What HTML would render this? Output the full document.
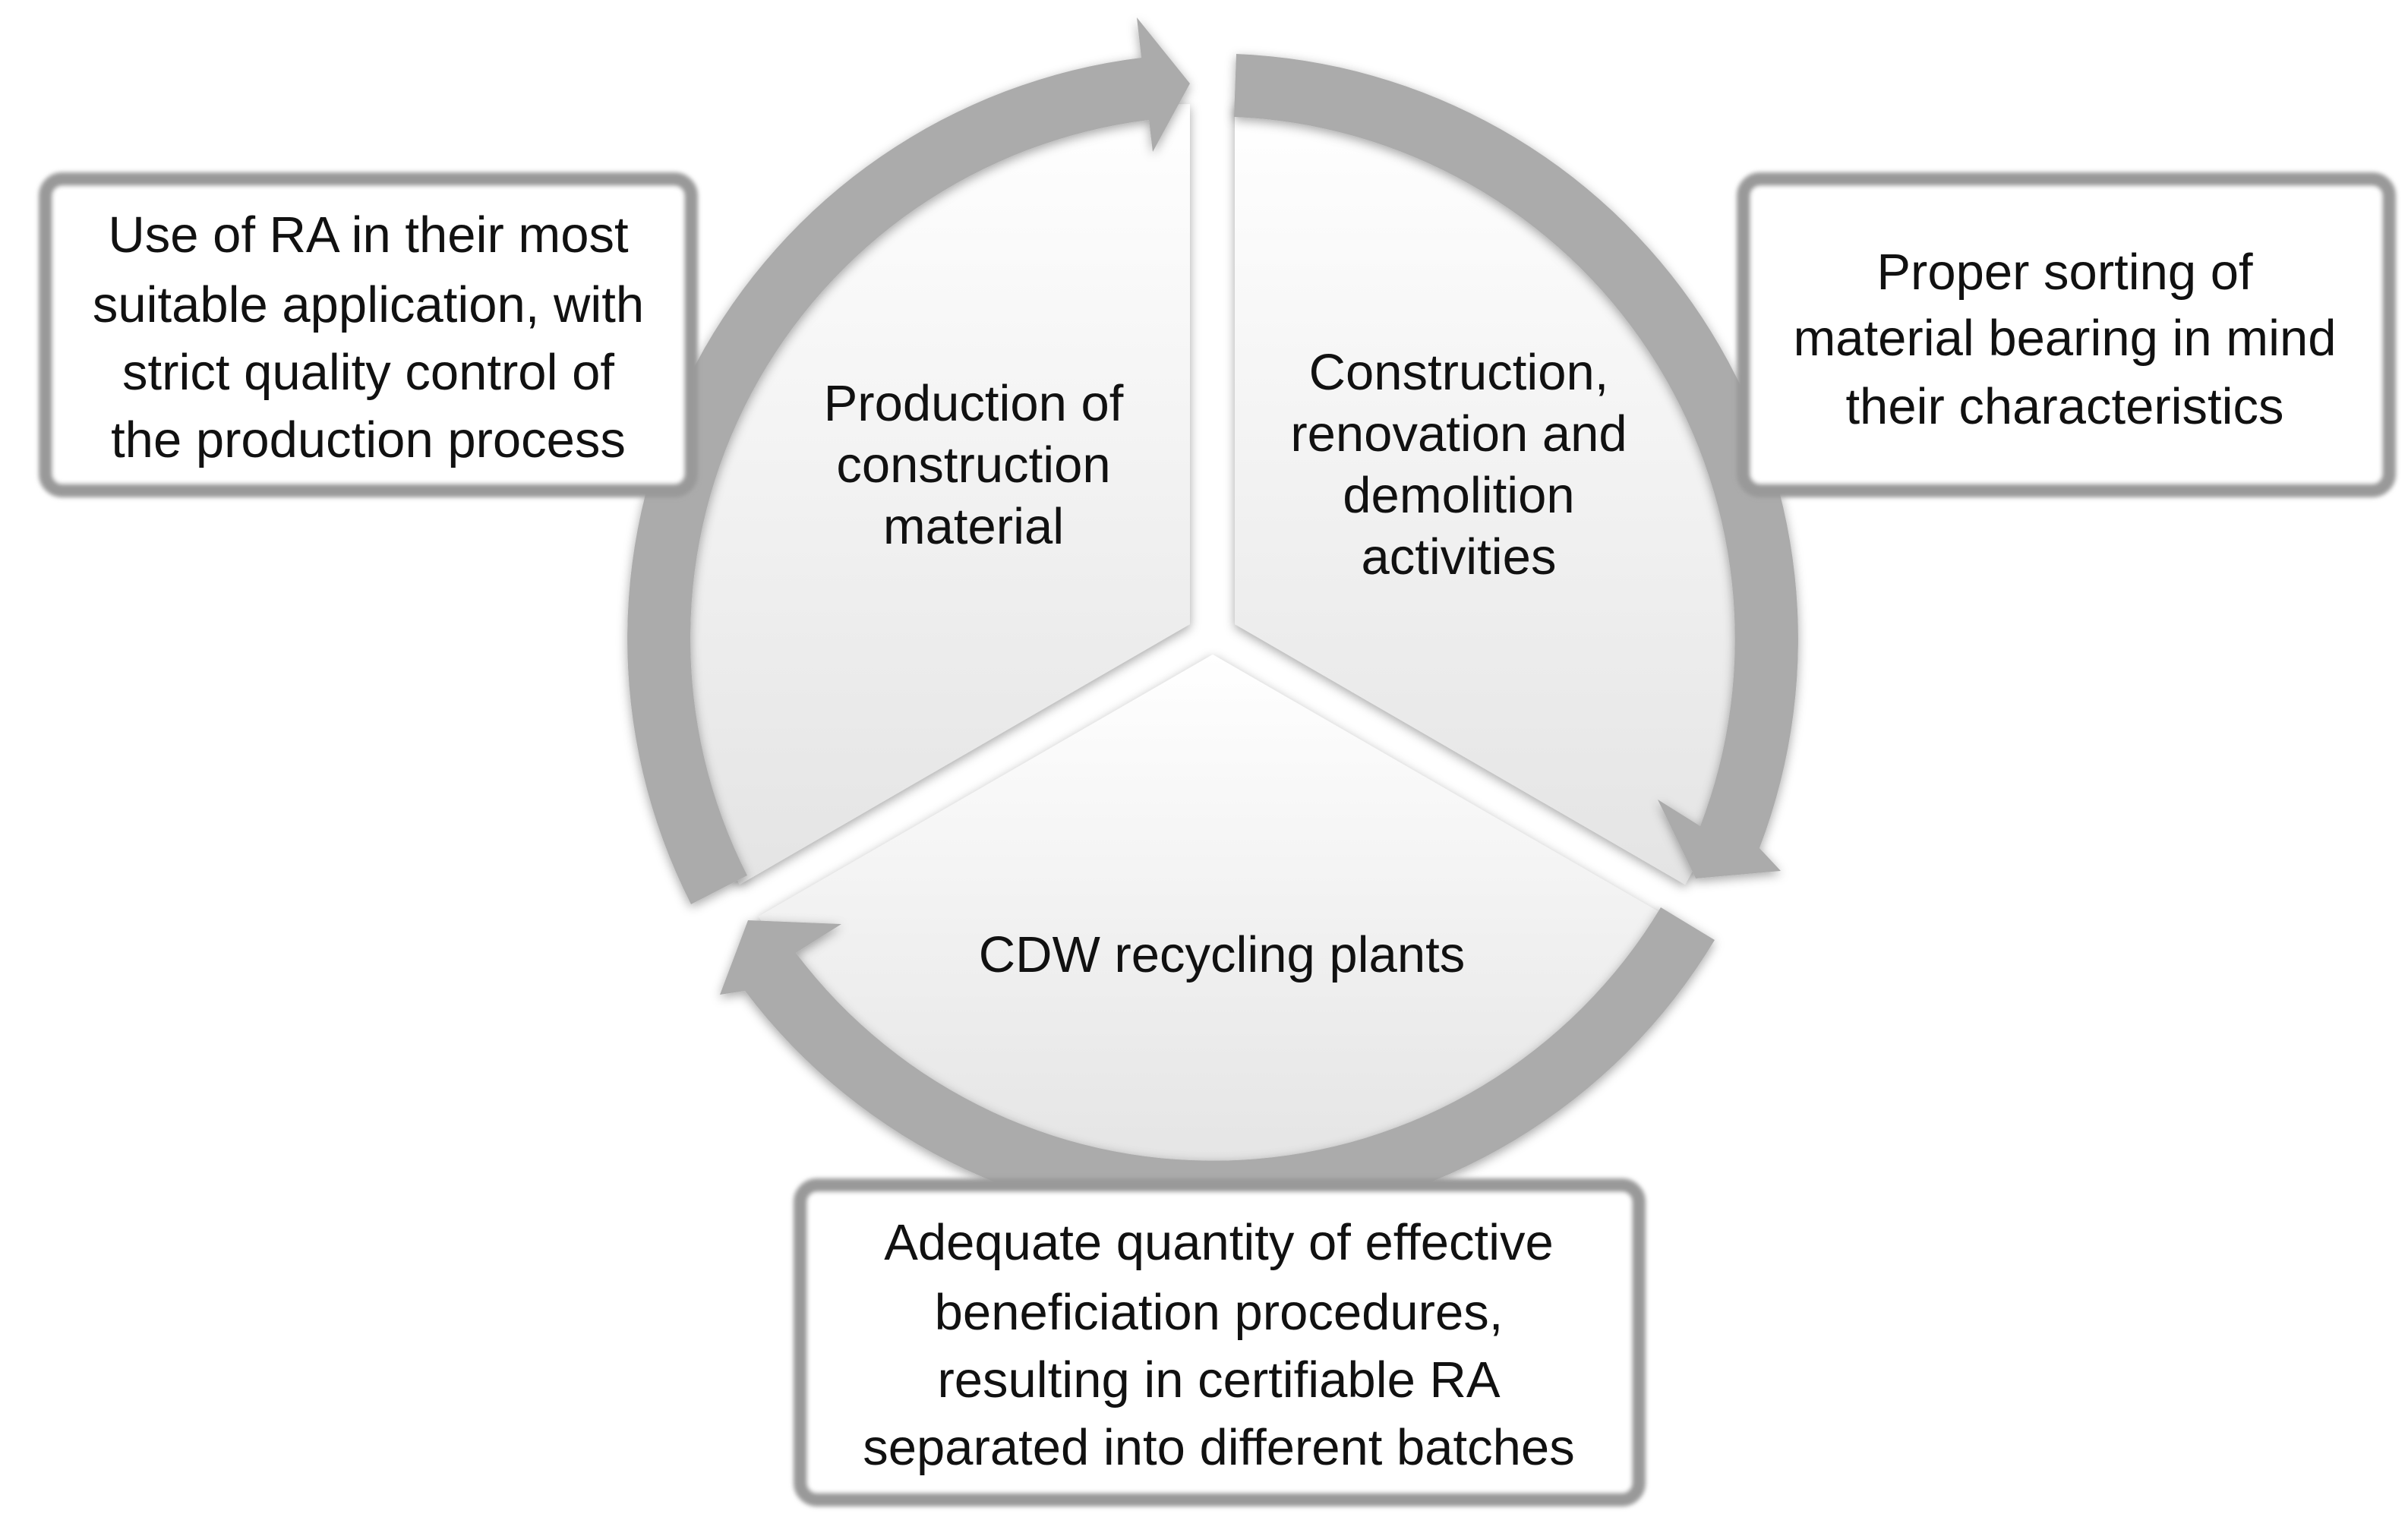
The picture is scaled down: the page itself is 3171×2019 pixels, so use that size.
<!DOCTYPE html>
<html><head><meta charset="utf-8"><style>
html,body{margin:0;padding:0;background:#fff;}
svg{display:block;}
text{font-family:"Liberation Sans",sans-serif;font-size:67px;fill:#111;text-anchor:middle;}
</style></head><body>
<svg width="3171" height="2019" viewBox="0 0 3171 2019" xmlns="http://www.w3.org/2000/svg">
<defs>
<linearGradient id="g" x1="0" y1="0" x2="0" y2="1">
<stop offset="0" stop-color="#ffffff"/><stop offset="1" stop-color="#e4e4e4"/>
</linearGradient>
<filter id="sh" x="-10%" y="-10%" width="120%" height="120%">
<feDropShadow dx="0" dy="4" stdDeviation="7" flood-color="#000" flood-opacity="0.35"/>
</filter>
<filter id="bl" x="-5%" y="-5%" width="110%" height="110%">
<feGaussianBlur stdDeviation="3"/>
</filter>
</defs>
<g filter="url(#sh)" fill="url(#g)" style="stroke-linejoin:round">
<path d="M 1567 822 L 1567 137 A 685 685 0 0 0 974 1165 Z"/>
<path d="M 1626 822 L 1626 137 A 685 685 0 0 1 2219 1165 Z"/>
<path d="M 1597 862 L 2195 1207 A 690 690 0 0 1 999 1207 Z"/>
</g>
<g filter="url(#sh)" fill="#ababab">
<path d="M 910 1191 A 771 771 0 0 1 1503 76 L 1497 23 L 1567 110 L 1518 200 L 1513 158 A 688 688 0 0 0 984 1153 Z"/>
<path d="M 1628 71 A 771 771 0 0 1 2317 1117 L 2345 1147 L 2233 1157 L 2183 1053 L 2239 1088 A 688 688 0 0 0 1625 154 Z"/>
<path d="M 2258 1238 A 771 771 0 0 1 981 1305 L 948 1310 L 985 1212 L 1108 1217 L 1048 1255 A 688 688 0 0 0 2187 1195 Z"/>
</g>
<g>
<rect x="60" y="236" width="850" height="410" rx="22" fill="#fff" stroke="#999" stroke-width="18" filter="url(#bl)"/>
<rect x="2296" y="236" width="850" height="410" rx="22" fill="#fff" stroke="#999" stroke-width="18" filter="url(#bl)"/>
<rect x="1054" y="1561" width="1104" height="414" rx="22" fill="#fff" stroke="#999" stroke-width="18" filter="url(#bl)"/>
</g>
<text x="485" y="332">Use of RA in their most</text>
<text x="485" y="424">suitable application, with</text>
<text x="485" y="513">strict quality control of</text>
<text x="485" y="602">the production process</text>

<text x="2719" y="381">Proper sorting of</text>
<text x="2719" y="468">material bearing in mind</text>
<text x="2719" y="558">their characteristics</text>

<text x="1605" y="1659">Adequate quantity of effective</text>
<text x="1605" y="1751">beneficiation procedures,</text>
<text x="1605" y="1840">resulting in certifiable RA</text>
<text x="1605" y="1929">separated into different batches</text>

<text x="1282" y="554">Production of</text>
<text x="1282" y="635">construction</text>
<text x="1282" y="716">material</text>

<text x="1921" y="513">Construction,</text>
<text x="1921" y="594">renovation and</text>
<text x="1921" y="675">demolition</text>
<text x="1921" y="756">activities</text>

<text x="1609" y="1280">CDW recycling plants</text>
</svg>
</body></html>
